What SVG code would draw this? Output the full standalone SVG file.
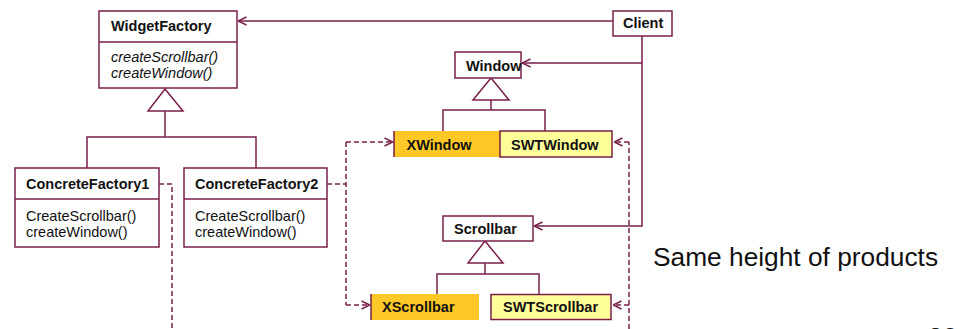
<svg xmlns="http://www.w3.org/2000/svg" width="960" height="329" viewBox="0 0 960 329">
  <style>
    .box { fill: #ffffff; stroke: #7a1f4a; stroke-width: 1.5; }
    .impl { fill: #ffff99; stroke: #7a1f4a; stroke-width: 1.5; }
    .ximpl { fill: #ffc826; stroke: none; }
    .edge { fill: none; stroke: #7a1f4a; stroke-width: 1.5; }
    .dash { fill: none; stroke: #7a1f4a; stroke-width: 1.5; stroke-dasharray: 5 3; }
    .tri { fill: #ffffff; stroke: #7a1f4a; stroke-width: 1.5; }
    .title { font-family: "Liberation Sans", Arial, sans-serif; font-size: 14.5px; font-weight: bold; fill: #111111; }
    .op { font-family: "Liberation Sans", Arial, sans-serif; font-size: 14.5px; fill: #111111; }
    .abs { font-style: italic; }
    .note { font-family: "Liberation Sans", Arial, sans-serif; font-size: 26.3px; fill: #111111; }
  </style>
  <defs>
    <marker id="open" viewBox="0 0 10 10" refX="9.5" refY="5" markerWidth="10" markerHeight="10" markerUnits="userSpaceOnUse" orient="auto">
      <path d="M1,1 L9.5,5 L1,9" fill="none" stroke="#7a1f4a" stroke-width="1.5"/>
    </marker>
  </defs>

  <rect width="960" height="329" fill="#ffffff"/>

  <!-- connectors -->
  <g id="connectors">
    <!-- Client uses the abstract factory and the abstract products -->
    <line class="edge" x1="613" y1="21" x2="238" y2="21" marker-end="url(#open)"/>
    <polyline class="edge" points="642,36 642,226 534,226" marker-end="url(#open)"/>
    <line class="edge" x1="642" y1="63" x2="522" y2="63" marker-end="url(#open)"/>

    <!-- inheritance: factories -->
    <polygon class="tri" points="165,89 148,111 183,111"/>
    <line class="edge" x1="165" y1="111" x2="165" y2="137"/>
    <polyline class="edge" points="87,168 87,137 256,137 256,168"/>

    <!-- inheritance: windows -->
    <polygon class="tri" points="491,78 473,100 509,100"/>
    <line class="edge" x1="491" y1="100" x2="491" y2="110"/>
    <polyline class="edge" points="443,131 443,110 545,110 545,131"/>

    <!-- inheritance: scrollbars -->
    <polygon class="tri" points="485,241 468,263 503,263"/>
    <line class="edge" x1="485" y1="263" x2="485" y2="274"/>
    <polyline class="edge" points="437,294 437,274 539,274 539,294"/>

    <!-- creation dependencies -->
    <polyline class="dash" points="159,184 172,184 172,329"/>
    <polyline class="dash" points="327,184 346,184"/>
    <polyline class="dash" points="346,142 346,305"/>
    <line class="dash" x1="346" y1="142" x2="393" y2="142" marker-end="url(#open)"/>
    <line class="dash" x1="346" y1="305" x2="370" y2="305" marker-end="url(#open)"/>
    <line class="dash" x1="629" y1="329" x2="629" y2="142"/>
    <line class="dash" x1="629" y1="142" x2="614" y2="142" marker-end="url(#open)"/>
    <line class="dash" x1="629" y1="305" x2="613" y2="305" marker-end="url(#open)"/>
  </g>

  <!-- nodes -->
  <g id="widget-factory">
    <rect class="box" x="99" y="11" width="138" height="77"/>
    <line class="edge" x1="99" y1="42" x2="237" y2="42"/>
    <text class="title" x="111" y="31">WidgetFactory</text>
    <text class="op abs" x="111" y="62">createScrollbar()</text>
    <text class="op abs" x="111" y="78">createWindow()</text>
  </g>

  <g id="concrete-factory-1">
    <rect class="box" x="15" y="168" width="144" height="79"/>
    <line class="edge" x1="15" y1="199" x2="159" y2="199"/>
    <text class="title" x="26" y="189">ConcreteFactory1</text>
    <text class="op" x="26" y="220.5">CreateScrollbar()</text>
    <text class="op" x="26" y="236.5">createWindow()</text>
  </g>

  <g id="concrete-factory-2">
    <rect class="box" x="184" y="168" width="143" height="79"/>
    <line class="edge" x1="184" y1="199" x2="327" y2="199"/>
    <text class="title" x="195" y="189">ConcreteFactory2</text>
    <text class="op" x="195" y="220.5">CreateScrollbar()</text>
    <text class="op" x="195" y="236.5">createWindow()</text>
  </g>

  <g id="client">
    <rect class="box" x="613" y="11" width="59" height="25"/>
    <text class="title" x="623" y="28">Client</text>
  </g>

  <g id="window">
    <rect class="box" x="455" y="52" width="66" height="26"/>
    <text class="title" x="466" y="71">Window</text>
  </g>

  <g id="xwindow">
    <rect class="ximpl" x="394" y="131" width="106" height="26"/>
    <line class="edge" x1="394" y1="131" x2="394" y2="157" stroke-width="1"/>
    <text class="title" x="406.5" y="150">XWindow</text>
  </g>

  <g id="swtwindow">
    <rect class="impl" x="500" y="131" width="112" height="26"/>
    <text class="title" x="511" y="150">SWTWindow</text>
  </g>

  <g id="scrollbar">
    <rect class="box" x="443" y="216" width="90" height="25"/>
    <text class="title" x="454" y="234">Scrollbar</text>
  </g>

  <g id="xscrollbar">
    <rect class="ximpl" x="371" y="294" width="108" height="26"/>
    <line class="edge" x1="371" y1="294" x2="371" y2="320" stroke-width="1"/>
    <text class="title" x="382" y="312">XScrollbar</text>
  </g>

  <g id="swtscrollbar">
    <rect class="impl" x="491" y="294.5" width="120" height="25"/>
    <text class="title" x="503" y="312">SWTScrollbar</text>
  </g>

  <text class="note" x="653" y="266">Same height of products</text>
  <!-- slide number, running off the bottom edge -->
  <text class="note" x="928" y="346">20</text>
</svg>
